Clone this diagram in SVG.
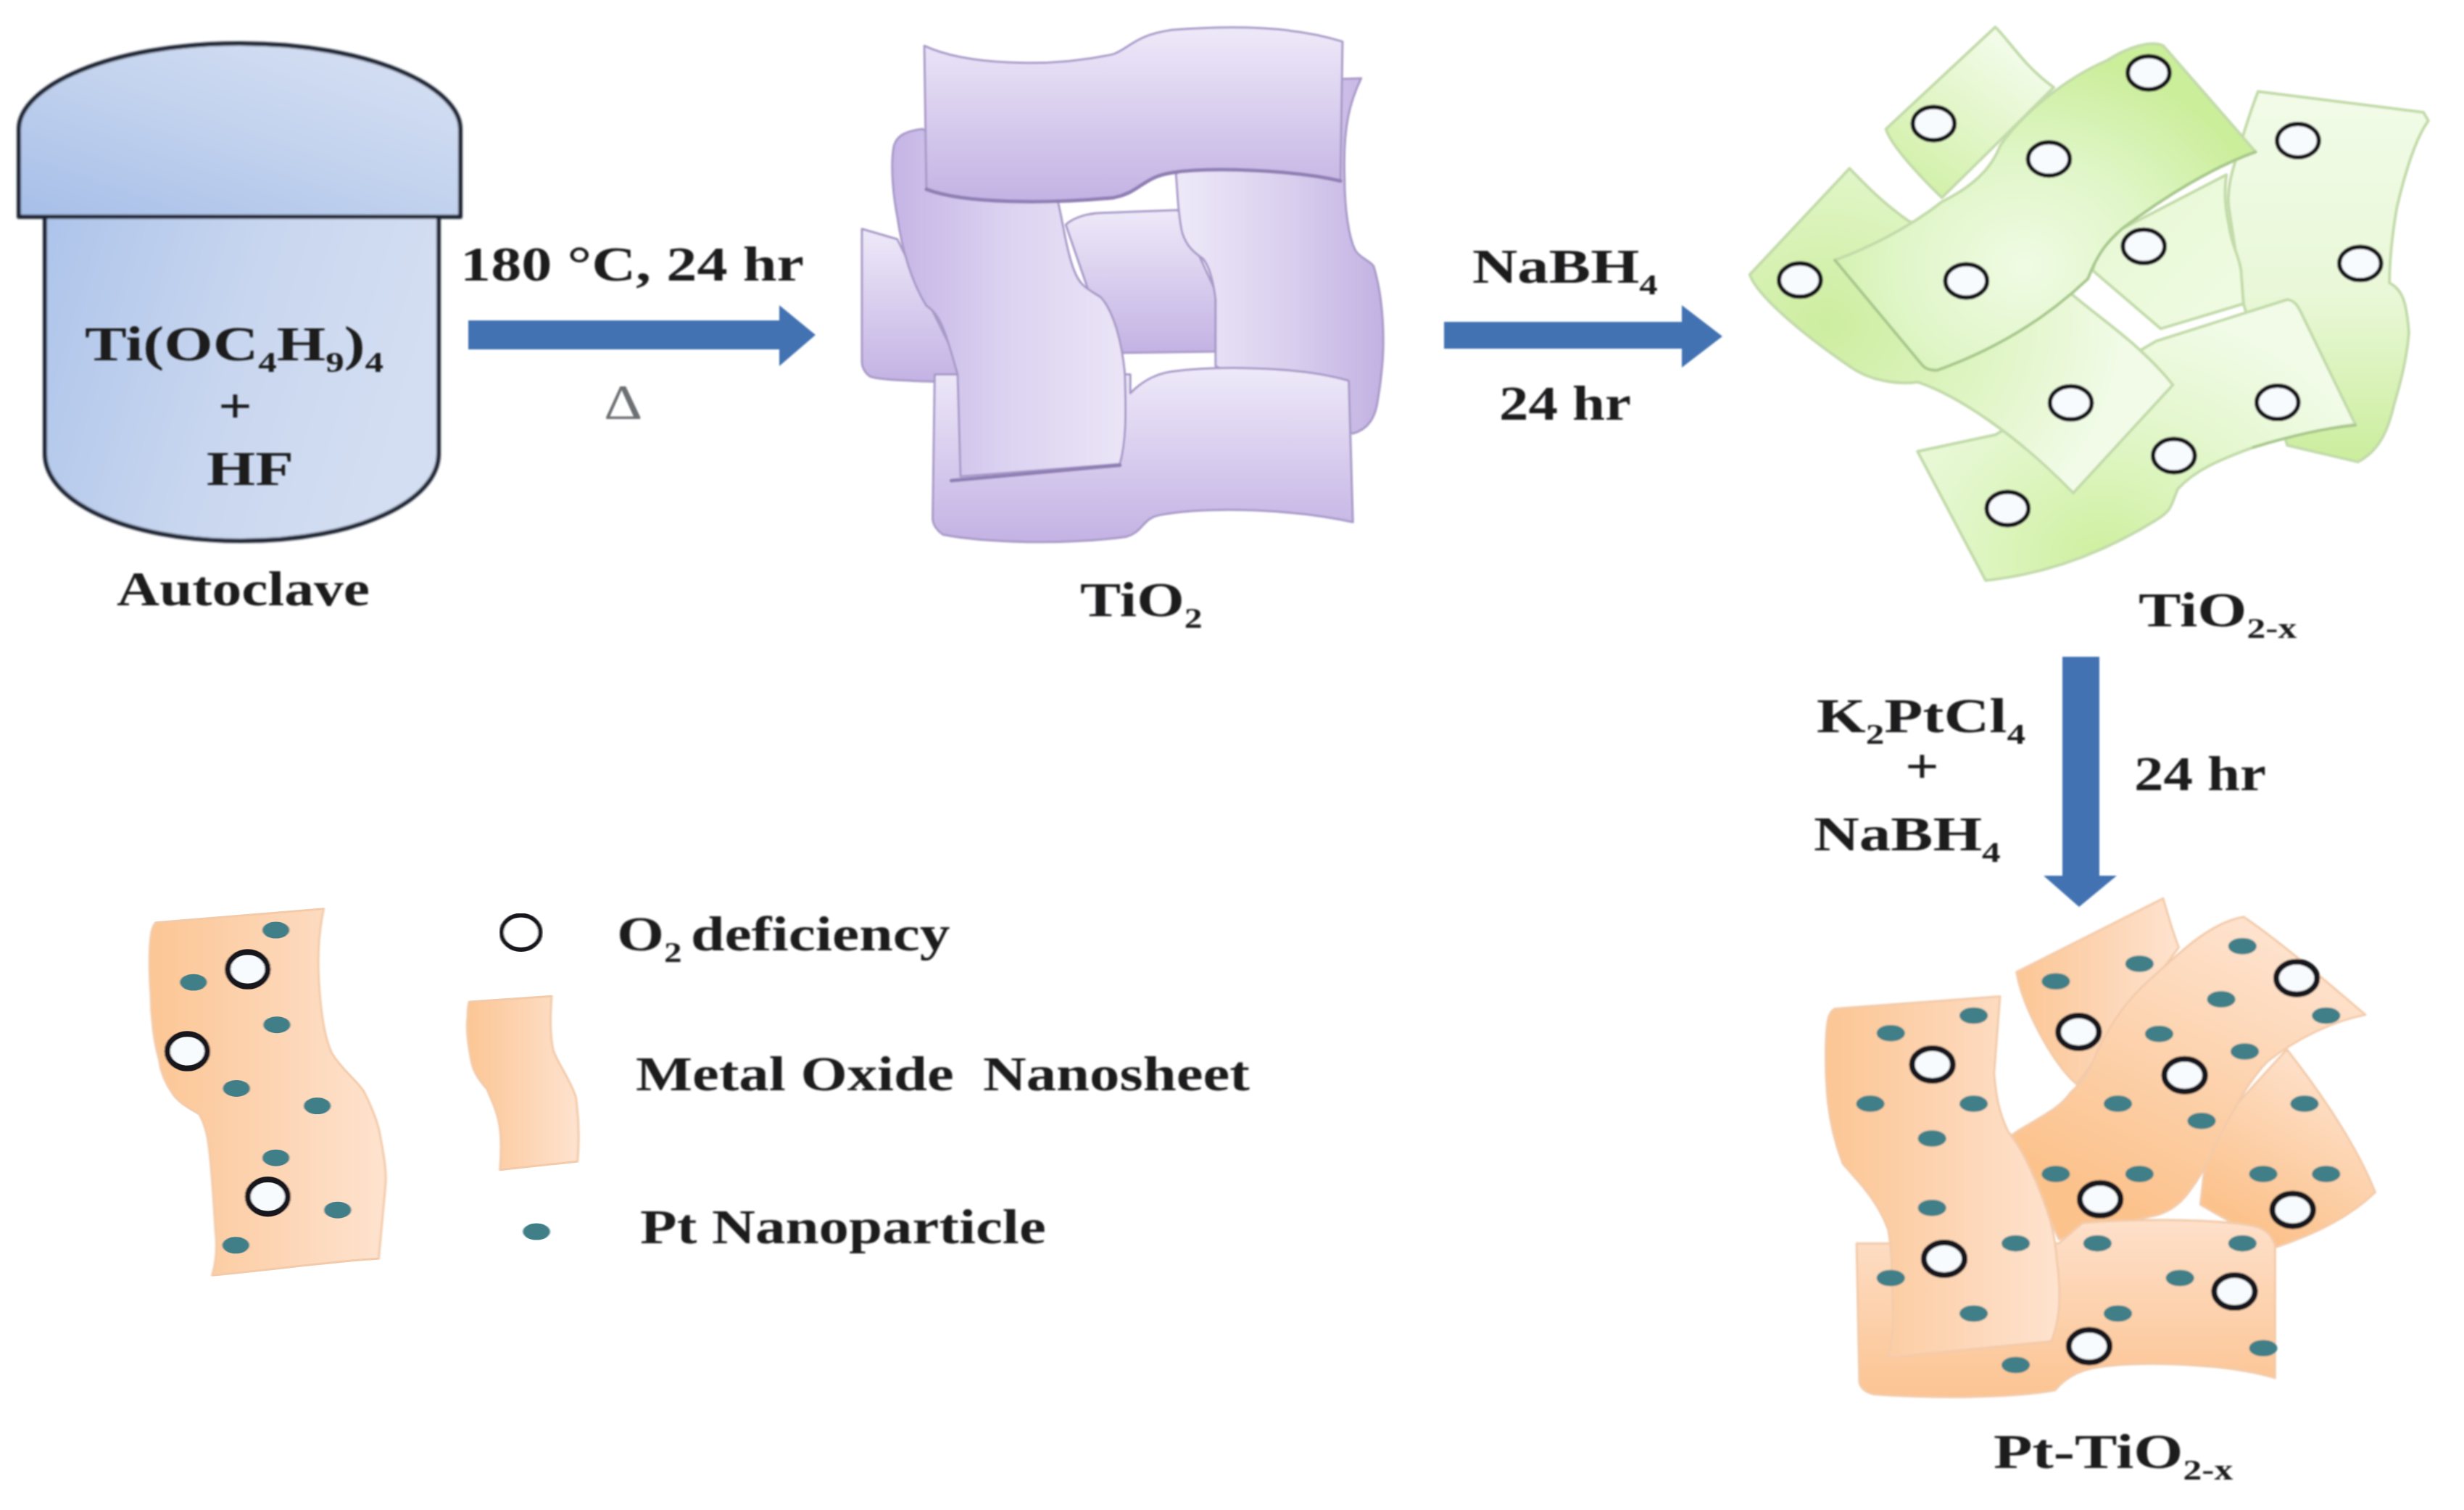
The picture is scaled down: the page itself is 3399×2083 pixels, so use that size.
<svg xmlns="http://www.w3.org/2000/svg" xmlns:xlink="http://www.w3.org/1999/xlink" width="3399" height="2083" viewBox="0 0 3399 2083">
<style>
.t{font-family:"Liberation Serif","Times New Roman",serif;font-weight:700;font-size:68px;fill:#1d1d1f}
.r{font-weight:400;fill:#6d6f73}
.s{font-size:40px}
.p{stroke:#a89ac8;stroke-width:3;stroke-linejoin:round;vector-effect:non-scaling-stroke}
.pe{fill:none;stroke:#8f7fb4;stroke-width:5;stroke-linecap:round;vector-effect:non-scaling-stroke}
.g{stroke:#c3dbaa;stroke-width:4;stroke-linejoin:round;vector-effect:non-scaling-stroke}
.ge{fill:none;stroke:#a9c98d;stroke-width:4;stroke-linecap:round;vector-effect:non-scaling-stroke}
.o{stroke:#f3cbaa;stroke-width:3;stroke-linejoin:round;vector-effect:non-scaling-stroke}
.ring{fill:#f8fbfd;stroke:#17171a;vector-effect:non-scaling-stroke}
.r6{stroke-width:6}.r8{stroke-width:8}
.dot{fill:#3f7f88}
.ac{stroke:#1a2230;stroke-width:6;stroke-linejoin:round}
.arrow{fill:#4272b2}
</style>
<defs>
<filter id="soft" x="-5%" y="-5%" width="110%" height="110%"><feGaussianBlur stdDeviation="1.8"/></filter>
<filter id="softT" x="-5%" y="-20%" width="110%" height="140%"><feGaussianBlur stdDeviation="1"/></filter>
<linearGradient id="acBody" x1="0" y1="0" x2="1" y2="0.25"><stop offset="0" stop-color="#adc4ea"/><stop offset="0.55" stop-color="#c8d6ef"/><stop offset="1" stop-color="#d3def2"/></linearGradient>
<linearGradient id="acLid" x1="0" y1="1" x2="0.8" y2="0.1"><stop offset="0" stop-color="#a6bee8"/><stop offset="0.6" stop-color="#c3d3ee"/><stop offset="1" stop-color="#d2ddf2"/></linearGradient>
<linearGradient id="pV" x1="0" y1="0" x2="0" y2="1"><stop offset="0" stop-color="#eee9f9"/><stop offset="1" stop-color="#c3b2e3"/></linearGradient>
<linearGradient id="pH" x1="0" y1="0" x2="1" y2="0"><stop offset="0" stop-color="#c5b4e5"/><stop offset="0.5" stop-color="#dcd3f1"/><stop offset="1" stop-color="#ebe5f7"/></linearGradient>
<linearGradient id="pR" x1="0" y1="0" x2="1" y2="0"><stop offset="0" stop-color="#eee9f9"/><stop offset="0.55" stop-color="#d9cfee"/><stop offset="1" stop-color="#c2b1e2"/></linearGradient>
<linearGradient id="gA" x1="0.1" y1="0.95" x2="0.7" y2="0.1"><stop offset="0" stop-color="#d0f0a4"/><stop offset="1" stop-color="#f2fbe8"/></linearGradient>
<radialGradient id="gB" gradientUnits="userSpaceOnUse" cx="250" cy="780" r="620"><stop offset="0" stop-color="#cdee9f"/><stop offset="0.55" stop-color="#dff5c4"/><stop offset="1" stop-color="#f2fbe8"/></radialGradient>
<radialGradient id="gC" gradientUnits="userSpaceOnUse" cx="660" cy="640" r="520"><stop offset="0" stop-color="#f0fbe4"/><stop offset="0.5" stop-color="#e0f6c8"/><stop offset="1" stop-color="#cbee9a"/></radialGradient>
<radialGradient id="gF" gradientUnits="userSpaceOnUse" cx="820" cy="1340" r="620"><stop offset="0" stop-color="#cff09f"/><stop offset="0.55" stop-color="#e3f7cd"/><stop offset="1" stop-color="#f2fbe8"/></radialGradient>
<linearGradient id="gV" x1="0" y1="0" x2="0" y2="1"><stop offset="0" stop-color="#f2fbe8"/><stop offset="0.55" stop-color="#e9f8d8"/><stop offset="1" stop-color="#cbee9c"/></linearGradient>
<linearGradient id="gP" x1="0" y1="0" x2="1" y2="1"><stop offset="0" stop-color="#e6f8d2"/><stop offset="1" stop-color="#f0fbe4"/></linearGradient>
<linearGradient id="oH" x1="0" y1="0" x2="1" y2="0"><stop offset="0" stop-color="#fcc694"/><stop offset="0.5" stop-color="#fdd4b2"/><stop offset="1" stop-color="#fee3cf"/></linearGradient>
<linearGradient id="oV" x1="0" y1="0" x2="0" y2="1"><stop offset="0" stop-color="#fee0ca"/><stop offset="1" stop-color="#fcc492"/></linearGradient>
<linearGradient id="oD" x1="0.85" y1="0.1" x2="0.4" y2="0.95"><stop offset="0" stop-color="#fee3cf"/><stop offset="1" stop-color="#fcc28c"/></linearGradient>
<ellipse id="ring3" class="ring r6" rx="43" ry="40"/>
<ellipse id="ring4" class="ring r8" rx="52" ry="40"/>
<ellipse id="ring5" class="ring r8" rx="62" ry="62"/>
<ellipse id="dot4" class="dot" rx="36" ry="20"/>
<ellipse id="dot5" class="dot" rx="42" ry="30"/>
</defs>
<rect width="3399" height="2083" fill="#ffffff"/>

<g id="node-autoclave">
<g filter="url(#soft)">
<path class="ac" fill="url(#acBody)" d="M62 299V626C62 690 170 746 333 746C495 746 605 690 605 626V299Z"/>
<path class="ac" fill="url(#acLid)" d="M26 299V178C26 120 150 60 331 60C510 60 635 120 635 178V299Z"/>
</g>
<g filter="url(#softT)">
<text class="t" transform="translate(117 497) scale(1.275 1)">Ti(OC<tspan class="s" dy="16">4</tspan><tspan dy="-16">H</tspan><tspan class="s" dy="16">9</tspan><tspan dy="-16">)</tspan><tspan class="s" dy="16">4</tspan></text>
<text class="t" transform="translate(301 583) scale(1.21 1)">+</text>
<text class="t" transform="translate(285 669) scale(1.27 1)">HF</text>
<text class="t" transform="translate(161 835) scale(1.2 1)">Autoclave</text>
</g>
</g>

<g id="node-tio2">
<g filter="url(#soft)" transform="translate(1100 0) scale(.574)">
<path class="p" fill="url(#pV)" d="M155 550L240 575L400 900L385 920C300 915 200 915 175 905C160 895 155 880 155 870Z"/>
<path class="p" fill="url(#pV)" d="M645 540C660 525 690 515 720 512L915 505L1005 700L1005 845L780 848L700 700Z"/>
<path class="p" fill="url(#pR)" d="M910 420L1000 200L1355 188C1330 240 1310 300 1315 430C1315 500 1325 570 1340 600C1350 620 1375 625 1385 640C1400 690 1408 750 1408 820C1408 880 1400 930 1395 960C1390 1000 1375 1030 1335 1042L1005 880L1005 720C1000 680 990 640 975 622C950 605 935 590 925 560C915 520 915 480 910 420Z"/>
<path class="p" fill="url(#pV)" d="M800 945C820 925 850 900 900 893C1000 880 1200 878 1325 915L1335 1255C1200 1225 1000 1215 870 1238C830 1245 830 1280 790 1290C650 1310 450 1305 350 1285C335 1275 325 1260 325 1245L330 900L800 900Z"/>
<path class="p" fill="url(#pH)" d="M300 310C260 315 240 325 232 350C222 400 232 480 240 520C250 590 270 670 310 735C345 755 360 810 385 900L392 1145L775 1115C790 1060 790 1000 787 900C780 820 760 750 730 715C700 695 680 690 665 650C645 600 640 540 625 480Z"/>
<path class="pe" d="M370 1155L775 1118"/>
<path class="p" fill="url(#pV)" d="M305 110C400 155 600 165 760 130C800 115 810 85 900 72C1050 60 1200 65 1310 100L1305 435C1200 410 1000 400 900 415C830 425 820 465 760 475C600 490 400 490 310 455Z"/>
<path class="pe" d="M1305 435C1200 410 1000 400 900 415C830 425 820 465 760 475C600 490 400 490 310 455"/>
</g>
<g filter="url(#softT)"><text class="t" transform="translate(1490 850) scale(1.24 1)">TiO<tspan class="s" dy="16">2</tspan></text></g>
</g>

<g id="node-tio2x">
<g filter="url(#soft)" transform="translate(2350 0) scale(.671 .574)">
<path class="g" fill="url(#gA)" d="M600 65L375 310C385 350 450 430 490 475L720 210C660 160 630 100 600 65Z"/>
<path class="g" fill="url(#gV)" d="M1140 220L1480 270L1490 290C1465 330 1445 400 1425 500C1415 570 1410 630 1410 680C1435 695 1445 720 1450 800C1445 870 1430 930 1420 970C1410 1020 1395 1080 1345 1110L1200 1070L1110 730L1080 500C1075 460 1085 420 1090 400C1105 340 1120 280 1140 220Z"/>
<path class="g" fill="url(#gP)" d="M810 610L860 550L1075 420C1070 460 1072 500 1080 540C1085 590 1100 610 1105 650L1110 730L940 790L800 650Z"/>
<path class="g" fill="url(#gF)" d="M440 1085L600 1045L930 820L1200 720C1215 722 1222 735 1230 755L1340 1020C1270 1030 1200 1050 1130 1075C1060 1105 1010 1130 975 1175C960 1215 965 1225 930 1250C820 1330 700 1380 580 1395Z"/>
<path class="ge" d="M1340 1022C1270 1030 1200 1050 1130 1075"/>
<path class="g" fill="url(#gB)" d="M300 405L95 660C110 710 200 800 300 880C340 915 400 925 440 918C520 950 640 1040 760 1185L965 925C900 830 820 770 760 710L420 530C360 480 330 440 300 405Z"/>
<path class="g" fill="url(#gC)" d="M270 625C330 600 420 550 490 485C550 450 590 410 610 350C650 280 740 190 830 145C870 115 920 95 945 110L1135 365C1050 400 950 470 860 550C830 580 810 610 790 670C700 770 600 840 480 890C465 890 455 885 450 878Z"/>
<path class="ge" d="M1135 365C1050 400 950 470 860 550C830 580 810 610 790 670C700 770 600 840 480 890C465 890 455 885 450 878L270 625"/>
<use href="#ring3" x="473" y="297"/><use href="#ring3" x="915" y="175"/><use href="#ring3" x="710" y="382"/><use href="#ring3" x="1222" y="338"/>
<use href="#ring3" x="905" y="592"/><use href="#ring3" x="1350" y="633"/><use href="#ring3" x="198" y="673"/><use href="#ring3" x="540" y="675"/>
<use href="#ring3" x="755" y="968"/><use href="#ring3" x="1180" y="967"/><use href="#ring3" x="967" y="1095"/><use href="#ring3" x="625" y="1222"/>
</g>
<g filter="url(#softT)"><text class="t" transform="translate(2950 864) scale(1.29 1)">TiO<tspan class="s" dy="16">2-x</tspan></text></g>
</g>

<g id="node-pt-tio2x">
<g filter="url(#soft)" transform="translate(2450 1200) scale(.542 .563)">
<path class="o" fill="url(#oH)" d="M985 70L612 250C625 330 700 470 765 525L1025 190C1005 140 995 100 985 70Z"/>
<path class="o" fill="url(#oD)" d="M1300 440C1390 550 1480 680 1525 790C1450 860 1350 900 1270 925L1080 820L1100 650Z"/>
<path class="o" fill="url(#oD)" d="M1190 115C1290 180 1420 290 1500 355C1420 370 1330 410 1250 470C1200 520 1170 580 1130 650C1100 710 1090 740 1050 790C1020 830 980 845 950 850L720 905L600 650C650 615 720 590 750 545C780 520 800 490 820 440C850 380 890 320 950 270C1020 210 1100 130 1190 115Z"/>
<path class="o" fill="url(#oV)" d="M205 915H720L780 865C900 855 1100 855 1200 870C1240 875 1260 890 1270 920V1245C1150 1210 950 1205 850 1215C780 1220 740 1240 710 1275C600 1295 400 1295 250 1285C225 1280 215 1270 212 1255Z"/>
<path class="o" fill="url(#oH)" d="M150 340L570 310L555 500C560 550 565 590 590 640C630 690 640 720 660 760C690 830 710 880 715 960C725 1030 725 1100 700 1155L285 1195C300 1150 300 1100 297 1050C295 980 295 930 285 880C270 840 250 810 220 775L170 720C150 670 135 610 130 550C125 490 125 420 130 380C132 360 140 345 150 340Z"/>
<use href="#dot4" x="1187" y="187"/><use href="#dot4" x="925" y="230"/><use href="#dot4" x="712" y="273"/><use href="#dot4" x="1133" y="317"/><use href="#dot4" x="1400" y="357"/><use href="#dot4" x="503" y="357"/><use href="#dot4" x="292" y="400"/><use href="#dot4" x="975" y="402"/><use href="#dot4" x="1193" y="445"/><use href="#dot4" x="240" y="573"/><use href="#dot4" x="503" y="573"/><use href="#dot4" x="870" y="573"/><use href="#dot4" x="1345" y="573"/><use href="#dot4" x="1083" y="615"/><use href="#dot4" x="397" y="658"/><use href="#dot4" x="712" y="745"/><use href="#dot4" x="925" y="745"/><use href="#dot4" x="1240" y="745"/><use href="#dot4" x="1400" y="745"/><use href="#dot4" x="397" y="828"/><use href="#dot4" x="610" y="915"/><use href="#dot4" x="818" y="915"/><use href="#dot4" x="1187" y="915"/><use href="#dot4" x="292" y="1000"/><use href="#dot4" x="1028" y="1000"/><use href="#dot4" x="503" y="1087"/><use href="#dot4" x="870" y="1087"/><use href="#dot4" x="1240" y="1172"/><use href="#dot4" x="610" y="1213"/>
<use href="#ring4" x="1325" y="265"/><use href="#ring4" x="770" y="397"/><use href="#ring4" x="398" y="477"/><use href="#ring4" x="1040" y="503"/><use href="#ring4" x="825" y="807"/><use href="#ring4" x="1315" y="833"/><use href="#ring4" x="428" y="953"/><use href="#ring4" x="1167" y="1033"/><use href="#ring4" x="797" y="1167"/>
</g>
<g filter="url(#softT)"><text class="t" transform="translate(2750 2025) scale(1.29 1)">Pt-TiO<tspan class="s" dy="16">2-x</tspan></text></g>
</g>

<g id="node-legend-sample" filter="url(#soft)" transform="translate(150 1200) scale(.446 .383)">
<path class="o" fill="url(#oH)" d="M145 190L665 140C650 220 645 300 650 400C655 500 665 600 690 660C720 720 770 760 790 800C820 870 835 920 840 960C855 1050 860 1100 855 1150L835 1400C700 1410 500 1440 320 1460C335 1400 335 1350 330 1300C325 1200 320 1100 310 1000C305 950 295 910 280 880C250 860 220 840 200 810C175 770 160 730 155 680C140 620 130 530 130 450C125 370 125 290 130 240C132 215 138 200 145 190Z"/>
<use href="#dot5" x="517" y="217"/><use href="#dot5" x="262" y="405"/><use href="#dot5" x="520" y="558"/><use href="#dot5" x="395" y="787"/><use href="#dot5" x="645" y="850"/><use href="#dot5" x="517" y="1037"/><use href="#dot5" x="708" y="1225"/><use href="#dot5" x="393" y="1352"/>
<use href="#ring5" x="430" y="358"/><use href="#ring5" x="243" y="653"/><use href="#ring5" x="492" y="1177"/>
</g>

<g id="node-legend-vacancy">
<g filter="url(#soft)" transform="translate(150 1200) scale(.446 .383)"><ellipse class="ring r6" cx="1275" cy="225" rx="60" ry="62" style="fill:#fff"/></g>
<g filter="url(#softT)"><text class="t" transform="translate(851 1311) scale(1.23 1)">O<tspan class="s" dy="16">2 </tspan><tspan dy="-16">deficiency</tspan></text></g>
</g>

<g id="node-legend-sheet">
<g filter="url(#soft)" transform="translate(150 1200) scale(.446 .383)"><path class="o" fill="url(#oH)" d="M1115 475L1370 455C1365 530 1365 600 1375 650C1390 700 1430 760 1445 820C1455 900 1455 980 1450 1050L1210 1080C1215 1010 1215 950 1205 900C1195 850 1180 820 1170 790C1140 750 1125 720 1120 680C1110 620 1105 570 1110 530C1110 505 1112 485 1115 475Z"/></g>
<g filter="url(#softT)"><text class="t" transform="translate(877 1504) scale(1.217 1)">Metal Oxide <tspan dx="16">Nanosheet</tspan></text></g>
</g>

<g id="node-legend-particle">
<g filter="url(#soft)" transform="translate(150 1200) scale(.446 .383)"><use href="#dot5" x="1323" y="1303"/></g>
<g filter="url(#softT)"><text class="t" transform="translate(883 1715) scale(1.22 1)">Pt Nanoparticle</text></g>
</g>

<g id="connectors">
<path class="arrow" filter="url(#softT)" d="M646 442H1075V421L1125 462L1075 505V482H646Z"/>
<path class="arrow" filter="url(#softT)" d="M1992 444H2320V421L2376 464L2320 507V481H1992Z"/>
<path class="arrow" filter="url(#softT)" d="M2845 906H2896V1208H2920L2868 1251L2819 1208H2845Z"/>
<g filter="url(#softT)">
<text class="t" transform="translate(635 387) scale(1.24 1)">180 °C, 24 hr</text>
<text class="t r" transform="translate(833 577) scale(1.22 1)">Δ</text>
<text class="t" transform="translate(2031 390) scale(1.27 1)">NaBH<tspan class="s" dy="16">4</tspan></text>
<text class="t" transform="translate(2068 579) scale(1.19 1)">24 hr</text>
<text class="t" transform="translate(2506 1010) scale(1.28 1)">K<tspan class="s" dy="16">2</tspan><tspan dy="-16">PtCl</tspan><tspan class="s" dy="16">4</tspan></text>
<text class="t" transform="translate(2628 1080) scale(1.21 1)">+</text>
<text class="t" transform="translate(2502 1173) scale(1.28 1)">NaBH<tspan class="s" dy="16">4</tspan></text>
<text class="t" transform="translate(2944 1090) scale(1.19 1)">24 hr</text>
</g>
</g>
</svg>
